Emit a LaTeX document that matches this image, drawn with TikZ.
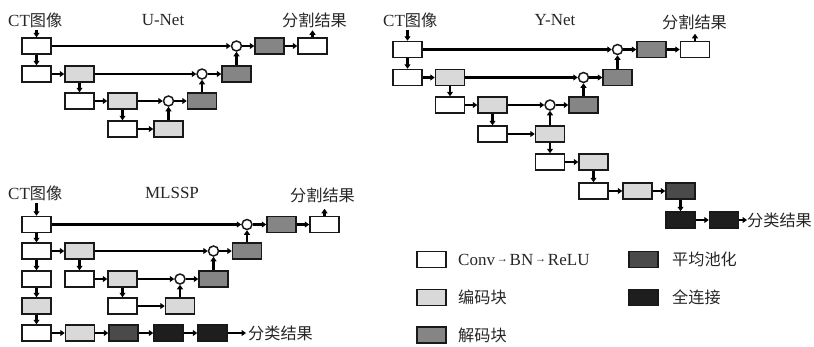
\documentclass[tikz,border=0pt]{standalone}
\usepackage{fontspec}
\setmainfont{Liberation Serif}
\newfontfamily\cjk{Noto Sans CJK SC}[Scale=0.95]
\usetikzlibrary{arrows.meta}
\definecolor{encC}{HTML}{D9D9D9}
\definecolor{decC}{HTML}{858585}
\definecolor{apC}{HTML}{4A4A4A}
\definecolor{fcC}{HTML}{1E1E1E}
\newcommand{\smarrow}{{\fontsize{11}{12}\selectfont\,\raisebox{2.3pt}{→}\,}}
\tikzset{
  blk/.style={draw=black!90, line width=1.5pt, minimum width=29pt, minimum height=16pt, inner sep=0pt},
  cv/.style={blk, fill=white},
  en/.style={blk, fill=encC},
  de/.style={blk, fill=decC},
  ap/.style={blk, fill=apC},
  fc/.style={blk, fill=fcC},
  sumc/.style={circle, draw=black!90, line width=1.5pt, fill=white, minimum size=10pt, inner sep=0pt},
  ar/.style={line width=2.6pt, -{Triangle[length=4.5pt,width=6pt]}},
  lbl/.style={inner sep=0pt, text=black!85, font=\fontsize{17}{20}\selectfont},
}
\begin{document}
\begin{tikzpicture}[x=1pt,y=-1pt]
\useasboundingbox (0,0) rectangle (814,346);
% ================= U-Net =================
\node[lbl, anchor=west] (ctU) at (8,20) {CT{\cjk 图像}};
\node[lbl] (tU) at (163,20) {U-Net};
\node[lbl, anchor=west] (segU) at (282,20) {\cjk 分割结果};
\node[cv] (u11) at (36.5,46) {};
\node[de] (ud1) at (269.5,46) {};
\node[cv] (uo1) at (312.5,46) {};
\node[cv] (u21) at (36.5,74) {};
\node[en] (u22) at (79.5,74) {};
\node[de] (ud2) at (236.5,74) {};
\node[cv] (u31) at (79.5,101) {};
\node[en] (u32) at (122.5,101) {};
\node[de] (ud3) at (202,101) {};
\node[cv] (u41) at (122.5,129) {};
\node[en] (u42) at (168.5,129) {};
\node[sumc] (us1) at (236.5,46) {};
\node[sumc] (us2) at (202,74) {};
\node[sumc] (us3) at (168.5,101) {};
\draw[ar] (u11.north |- ctU.south) ++(0,2) -- (u11.north);
\draw[ar] (u11) -- (us1);
\draw[ar] (us1) -- (ud1);
\draw[ar] (ud1) -- (uo1);
\draw[ar] (uo1.north) -- ++(0,-7);
\draw[ar] (u11) -- (u21);
\draw[ar] (u21) -- (u22);
\draw[ar] (u22) -- (us2);
\draw[ar] (us2) -- (ud2);
\draw[ar] (ud2) -- (us1);
\draw[ar] (u22) -- (u31);
\draw[ar] (u31) -- (u32);
\draw[ar] (u32) -- (us3);
\draw[ar] (us3) -- (ud3);
\draw[ar] (ud3) -- (us2);
\draw[ar] (u32) -- (u41);
\draw[ar] (u41) -- (u42);
\draw[ar] (u42) -- (us3);
% ================= MLSSP =================
\node[lbl, anchor=west] (ctM) at (8,193) {CT{\cjk 图像}};
\node[lbl] (tM) at (172,193) {MLSSP};
\node[lbl, anchor=west] (segM) at (290,195) {\cjk 分割结果};
\node[cv] (m11) at (36.5,224.5) {};
\node[de] (md1) at (281.5,224.5) {};
\node[cv] (mo1) at (324.5,224.5) {};
\node[cv] (m21) at (36.5,251) {};
\node[en] (m22) at (79.5,251) {};
\node[de] (md2) at (247,251) {};
\node[cv] (m31) at (36.5,279) {};
\node[cv] (m32) at (79.5,279) {};
\node[en] (m33) at (122.5,279) {};
\node[de] (md3) at (213.5,279) {};
\node[en] (m41) at (36.5,306) {};
\node[cv] (m42) at (122.5,306) {};
\node[en] (m43) at (180,306) {};
\node[cv] (m51) at (36.5,333) {};
\node[en] (m52) at (80,333) {};
\node[ap] (m53) at (123.5,333) {};
\node[fc] (m54) at (168.5,333) {};
\node[fc] (m55) at (212.5,333) {};
\node[lbl, anchor=west] (clsM) at (248,333) {\cjk 分类结果};
\node[sumc] (ms1) at (247,224.5) {};
\node[sumc] (ms2) at (213.5,251) {};
\node[sumc] (ms3) at (180,279) {};
\draw[ar] (m11.north |- ctM.south) ++(0,2) -- (m11.north);
\draw[ar] (m11) -- (ms1);
\draw[ar] (ms1) -- (md1);
\draw[ar] (md1) -- (mo1);
\draw[ar] (mo1.north) -- ++(0,-7);
\draw[ar] (m11) -- (m21);
\draw[ar] (m21) -- (m31);
\draw[ar] (m31) -- (m41);
\draw[ar] (m41) -- (m51);
\draw[ar] (m21) -- (m22);
\draw[ar] (m22) -- (ms2);
\draw[ar] (ms2) -- (md2);
\draw[ar] (md2) -- (ms1);
\draw[ar] (m22) -- (m32);
\draw[ar] (m32) -- (m33);
\draw[ar] (m33) -- (ms3);
\draw[ar] (ms3) -- (md3);
\draw[ar] (md3) -- (ms2);
\draw[ar] (m33) -- (m42);
\draw[ar] (m42) -- (m43);
\draw[ar] (m43) -- (ms3);
\draw[ar] (m51) -- (m52);
\draw[ar] (m52) -- (m53);
\draw[ar] (m53) -- (m54);
\draw[ar] (m54) -- (m55);
\draw[ar] (m55.east) -- ([xshift=-2pt]clsM.west);
% ================= Y-Net =================
\node[lbl, anchor=west] (ctY) at (383,20) {CT{\cjk 图像}};
\node[lbl] (tY) at (555,20) {Y-Net};
\node[lbl, anchor=west] (segY) at (662,22) {\cjk 分割结果};
\node[cv] (y11) at (407.5,49.5) {};
\node[de] (yd1) at (651.5,49.5) {};
\node[cv] (yo1) at (695,49.5) {};
\node[cv] (y21) at (407.5,77.5) {};
\node[en] (y22) at (450,77.5) {};
\node[de] (yd2) at (617.5,77.5) {};
\node[cv] (y31) at (450,105) {};
\node[en] (y32) at (492.5,105) {};
\node[de] (yd3) at (583.5,105) {};
\node[cv] (y41) at (492.5,134) {};
\node[en] (y42) at (550,134) {};
\node[cv] (y51) at (550,162) {};
\node[en] (y52) at (593.5,162) {};
\node[cv] (y61) at (593.5,191) {};
\node[en] (y62) at (637.5,191) {};
\node[ap] (y63) at (680.5,191) {};
\node[fc] (y71) at (680.5,220) {};
\node[fc] (y72) at (724,220) {};
\node[lbl, anchor=west] (clsY) at (747,220) {\cjk 分类结果};
\node[sumc] (ys1) at (617.5,49.5) {};
\node[sumc] (ys2) at (583.5,77.5) {};
\node[sumc] (ys3) at (550,105) {};
\draw[ar] (y11.north |- ctY.south) ++(0,2) -- (y11.north);
\draw[ar] (y11) -- (ys1);
\draw[ar] (ys1) -- (yd1);
\draw[ar] (yd1) -- (yo1);
\draw[ar] (yo1.north) -- ++(0,-7);
\draw[ar] (y11) -- (y21);
\draw[ar] (y21) -- (y22);
\draw[ar] (y22) -- (ys2);
\draw[ar] (ys2) -- (yd2);
\draw[ar] (yd2) -- (ys1);
\draw[ar] (y22) -- (y31);
\draw[ar] (y31) -- (y32);
\draw[ar] (y32) -- (ys3);
\draw[ar] (ys3) -- (yd3);
\draw[ar] (yd3) -- (ys2);
\draw[ar] (y32) -- (y41);
\draw[ar] (y41) -- (y42);
\draw[ar] (y42) -- (ys3);
\draw[ar] (y42) -- (y51);
\draw[ar] (y51) -- (y52);
\draw[ar] (y52) -- (y61);
\draw[ar] (y61) -- (y62);
\draw[ar] (y62) -- (y63);
\draw[ar] (y63) -- (y71);
\draw[ar] (y71) -- (y72);
\draw[ar] (y72.east) -- (clsY.west);
% ================= Legend =================
\node[cv] (l1) at (431.5,259.5) {};
\node[lbl, anchor=west] (t1) at (458,259.5) {Conv\smarrow BN\smarrow ReLU};
\node[en] (l2) at (431.5,297.5) {};
\node[lbl, anchor=west] (t2) at (458,297.5) {\cjk 编码块};
\node[de] (l3) at (431.5,335) {};
\node[lbl, anchor=west] (t3) at (458,335) {\cjk 解码块};
\node[ap] (l4) at (643.5,259.5) {};
\node[lbl, anchor=west] (t4) at (672,259.5) {\cjk 平均池化};
\node[fc] (l5) at (643.5,297.5) {};
\node[lbl, anchor=west] (t5) at (672,297.5) {\cjk 全连接};
\end{tikzpicture}
\end{document}
